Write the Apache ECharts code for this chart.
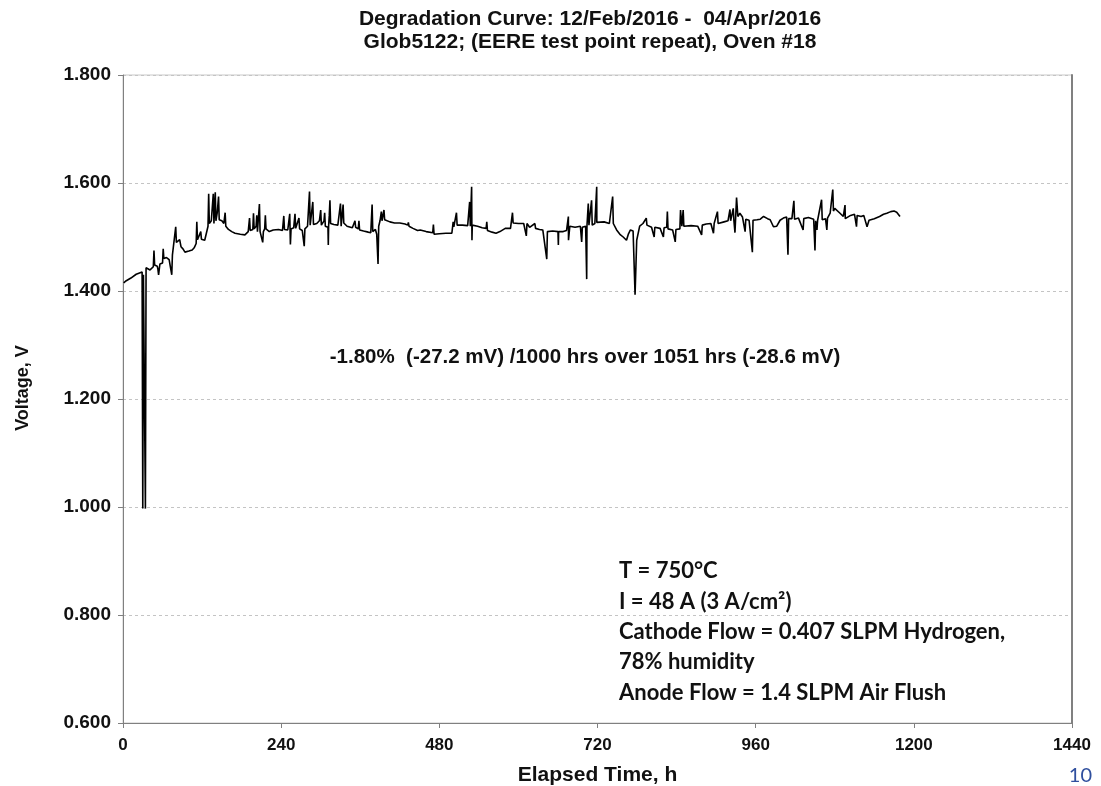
<!DOCTYPE html>
<html>
<head>
<meta charset="utf-8">
<title>Degradation Curve</title>
<script src="https://cdn.jsdelivr.net/npm/echarts@6/dist/echarts.min.js"></script>
<style>
  html, body { margin: 0; padding: 0; background: #fff; }
  #chart { width: 1101px; height: 786px; }
</style>
</head>
<body>
<div id="chart"></div>
<script>
const titleLines = ['Degradation Curve: 12/Feb/2016 -  04/Apr/2016', 'Glob5122; (EERE test point repeat), Oven #18']
const xTicks = [0, 240, 480, 720, 960, 1200, 1440]
const yTicks = [0.6, 0.8, 1.0, 1.2, 1.4, 1.6, 1.8]
const rateNote = '-1.80%  (-27.2 mV) /1000 hrs over 1051 hrs (-28.6 mV)'
const conditions = [
  'T = 750°C',
  'I = 48 A (3 A/cm²)',
  'Cathode Flow = 0.407 SLPM Hydrogen,',
  '78% humidity',
  'Anode Flow = 1.4 SLPM Air Flush'
]
const pageNo = '10'

// [elapsed h, cell voltage V]
const trace = [
  [1, 1.415], [5, 1.419], [12, 1.424], [20, 1.431], [24, 1.433],
  [29, 1.435], [30, 0.997], [31, 1.43], [33, 1.43], [34, 0.997], [35, 1.443],
  [38, 1.441], [41, 1.439], [46, 1.445], [47, 1.475], [48, 1.448], [52, 1.446],
  [53, 1.44], [54, 1.43], [56, 1.45], [60, 1.452], [61, 1.478], [62, 1.46],
  [66, 1.462], [70, 1.458], [73, 1.46], [74, 1.43], [75, 1.467], [78, 1.47],
  [80, 1.519], [81, 1.49], [84, 1.488], [86, 1.495], [88, 1.482], [91, 1.478],
  [94, 1.472], [100, 1.474], [105, 1.476], [108, 1.48], [111, 1.488], [112, 1.528],
  [113, 1.495], [116, 1.498], [118, 1.51], [119, 1.496], [124, 1.494], [127, 1.494],
  [129, 1.52], [130, 1.58], [131, 1.525], [134, 1.53], [137, 1.58], [138, 1.525],
  [140, 1.583], [141, 1.53], [143, 1.545], [145, 1.575], [146, 1.532], [150, 1.53],
  [153, 1.525], [155, 1.545], [156, 1.52], [160, 1.514], [165, 1.51], [170, 1.507],
  [178, 1.505], [185, 1.504], [190, 1.51], [192, 1.535], [193, 1.512], [197, 1.514],
  [198, 1.544], [199, 1.515], [202, 1.52], [203, 1.54], [204, 1.51], [206, 1.51],
  [207, 1.561], [208, 1.51], [211, 1.508], [212, 1.49], [213, 1.51], [215, 1.515],
  [216, 1.54], [217, 1.515], [222, 1.51], [228, 1.513], [236, 1.514], [242, 1.512],
  [244, 1.539], [245, 1.514], [250, 1.513], [253, 1.543], [254, 1.486], [255, 1.515],
  [259, 1.517], [261, 1.543], [262, 1.516], [265, 1.518], [267, 1.535], [268, 1.515],
  [272, 1.512], [275, 1.483], [276, 1.515], [280, 1.52], [283, 1.584], [284, 1.522],
  [287, 1.524], [288, 1.565], [289, 1.523], [294, 1.525], [298, 1.53], [300, 1.55],
  [301, 1.522], [305, 1.53], [306, 1.545], [307, 1.52], [311, 1.518], [311.5, 1.485],
  [312, 1.52], [313, 1.54], [314, 1.568], [315, 1.525], [320, 1.523], [326, 1.522],
  [330, 1.562], [331, 1.52], [334, 1.56], [335, 1.526], [340, 1.52], [348, 1.517],
  [352, 1.53], [353, 1.518], [357, 1.515], [358, 1.53], [359, 1.513], [365, 1.511],
  [372, 1.509], [376, 1.508], [378, 1.56], [379, 1.51], [383, 1.514], [385, 1.505],
  [387, 1.45], [388, 1.52], [390, 1.53], [392, 1.547], [393, 1.53], [396, 1.55],
  [397, 1.532], [400, 1.53], [405, 1.528], [412, 1.526], [420, 1.526], [428, 1.524],
  [432, 1.522], [433, 1.527], [434, 1.52], [440, 1.516], [447, 1.512], [451, 1.513],
  [460, 1.51], [470, 1.508], [471, 1.523], [472, 1.505], [480, 1.506], [490, 1.507],
  [499, 1.507], [501, 1.528], [502, 1.519], [505, 1.52], [506, 1.545], [507, 1.522],
  [515, 1.522], [523, 1.521], [526, 1.565], [527, 1.52], [529, 1.593], [529.5, 1.494],
  [530, 1.522], [538, 1.52], [545, 1.517], [551, 1.516], [552, 1.528], [553, 1.512],
  [560, 1.509], [566, 1.507], [572, 1.51], [580, 1.516], [588, 1.516], [591, 1.545],
  [592, 1.526], [600, 1.525], [608, 1.525], [612, 1.502], [613, 1.525], [617, 1.518],
  [625, 1.525], [626, 1.516], [632, 1.514], [637, 1.513], [643, 1.459], [644, 1.51],
  [652, 1.511], [660, 1.51], [660.6, 1.485], [661, 1.51], [668, 1.51], [673, 1.512],
  [675.8, 1.538], [676, 1.494], [678, 1.52], [686, 1.518], [694, 1.52], [696, 1.491],
  [697, 1.518], [702, 1.52], [703.6, 1.422], [704, 1.52], [706, 1.562], [707, 1.522],
  [711, 1.568], [712, 1.522], [716, 1.525], [718.8, 1.593], [719, 1.527], [730, 1.528],
  [738, 1.525], [743, 1.575], [744, 1.525], [749, 1.513], [754, 1.505], [759, 1.5],
  [764, 1.494], [767, 1.506], [770, 1.513], [774, 1.511], [777, 1.393], [779.5, 1.494],
  [784, 1.52], [789, 1.525], [794, 1.535], [795, 1.522], [802, 1.518], [806, 1.5],
  [807, 1.518], [815, 1.516], [820, 1.5], [821, 1.517], [825, 1.518], [826, 1.547],
  [827, 1.515], [834, 1.513], [838, 1.491], [839, 1.514], [845, 1.515], [846, 1.55],
  [848, 1.52], [850, 1.55], [851, 1.52], [862, 1.521], [872, 1.52], [878, 1.504],
  [879, 1.522], [885, 1.524], [892, 1.525], [896, 1.507], [897, 1.525], [902, 1.547],
  [903, 1.525], [906, 1.525], [912, 1.528], [918, 1.53], [921, 1.551], [922, 1.53],
  [926, 1.553], [927, 1.53], [928.6, 1.508], [931, 1.573], [933, 1.538], [936, 1.544],
  [940, 1.537], [944, 1.51], [945, 1.533], [950, 1.531], [955, 1.472], [956, 1.531],
  [962, 1.532], [967, 1.533], [972, 1.538], [978, 1.534], [982, 1.532], [987, 1.519],
  [992, 1.52], [997, 1.531], [1002, 1.535], [1007, 1.537], [1009, 1.467], [1010, 1.534],
  [1015, 1.534], [1018, 1.567], [1019, 1.533], [1025, 1.535], [1032, 1.513], [1033, 1.534],
  [1040, 1.536], [1048, 1.533], [1050, 1.475], [1051, 1.53], [1053, 1.513], [1054, 1.531],
  [1060, 1.569], [1061, 1.532], [1066, 1.534], [1068, 1.513], [1069, 1.535], [1073, 1.544],
  [1077, 1.588], [1078, 1.548], [1080, 1.553], [1083, 1.55], [1088, 1.544], [1093, 1.538],
  [1095.6, 1.559], [1096, 1.534], [1098, 1.531], [1104, 1.54], [1110, 1.542], [1113, 1.519],
  [1114, 1.54], [1120, 1.538], [1124, 1.54], [1129, 1.519], [1132, 1.531], [1140, 1.534],
  [1148, 1.538], [1154, 1.542], [1159, 1.544], [1165, 1.547], [1170, 1.548], [1174, 1.546],
  [1179, 1.538]
]

const chart = echarts.init(document.getElementById('chart'))
const arial = '"Liberation Sans", Arial, sans-serif'
const calibri = 'Lato, "Open Sans", sans-serif'

chart.setOption({
  animation: false,
  backgroundColor: '#fff',
  title: {
    text: titleLines.join('\n'),
    left: 585,
    top: 3,
    textAlign: 'center',
    textStyle: {
      fontFamily: arial,
      fontSize: 21,
      fontWeight: 'bold',
      color: '#111',
      lineHeight: 23
    }
  },
  grid: {
    left: 123,
    right: 29,
    top: 75,
    bottom: 63,
    outerBoundsMode: 'none',
    show: true,
    borderColor: '#c8c8c8',
    borderWidth: 1
  },
  xAxis: {
    type: 'value',
    min: xTicks[0],
    max: xTicks[xTicks.length - 1],
    interval: 240,
    name: 'Elapsed Time, h',
    nameLocation: 'middle',
    nameGap: 42,
    nameTextStyle: { fontFamily: arial, fontSize: 21, fontWeight: 'bold', color: '#111' },
    axisLine: { lineStyle: { color: '#808080', width: 1 } },
    axisTick: { show: true, length: 5, lineStyle: { color: '#808080' } },
    axisLabel: {
      margin: 14,
      fontFamily: arial,
      fontSize: 17,
      fontWeight: 'bold',
      color: '#111',
      formatter: v => String(v)
    },
    splitLine: { show: false }
  },
  yAxis: [
    {
      type: 'value',
      min: yTicks[0],
      max: yTicks[yTicks.length - 1],
      interval: 0.2,
      name: 'Voltage, V',
      nameLocation: 'middle',
      nameGap: 91,
      nameTextStyle: {
        fontFamily: arial,
        fontSize: 18,
        fontWeight: 'bold',
        color: '#111',
        padding: [0, 0, 0, 22]
      },
      axisLine: { show: true, lineStyle: { color: '#808080', width: 1 } },
      axisTick: { show: true, length: 5, lineStyle: { color: '#808080' } },
      axisLabel: {
        margin: 12,
        fontFamily: arial,
        fontSize: 19,
        fontWeight: 'bold',
        color: '#111',
        formatter: v => v.toFixed(3)
      },
      splitLine: { show: true, lineStyle: { color: '#c4c4c4', type: [3, 3], width: 1 } }
    },
    {
      type: 'value',
      min: yTicks[0],
      max: yTicks[yTicks.length - 1],
      position: 'right',
      axisLine: { show: true, lineStyle: { color: '#808080', width: 2 } },
      axisTick: { show: false },
      axisLabel: { show: false },
      splitLine: { show: false }
    }
  ],
  series: [
    {
      type: 'line',
      data: trace,
      symbol: 'none',
      clip: true,
      lineStyle: { color: '#000', width: 1.6 },
      z: 3
    }
  ],
  graphic: [
    {
      type: 'text',
      x: 585,
      y: 357,
      style: {
        text: rateNote,
        align: 'center',
        verticalAlign: 'middle',
        font: 'bold 20.5px ' + arial,
        fill: '#111'
      }
    },
    {
      type: 'text',
      x: 619,
      y: 556,
      style: {
        text: conditions.join('\n'),
        font: 'bold 22px ' + calibri,
        lineHeight: 30.4,
        fill: '#111'
      }
    },
    {
      type: 'text',
      x: 1092,
      y: 776,
      style: {
        text: pageNo,
        align: 'right',
        verticalAlign: 'middle',
        font: '20px ' + calibri,
        fill: '#2f4f9e'
      }
    }
  ]
})
</script>
</body>
</html>
